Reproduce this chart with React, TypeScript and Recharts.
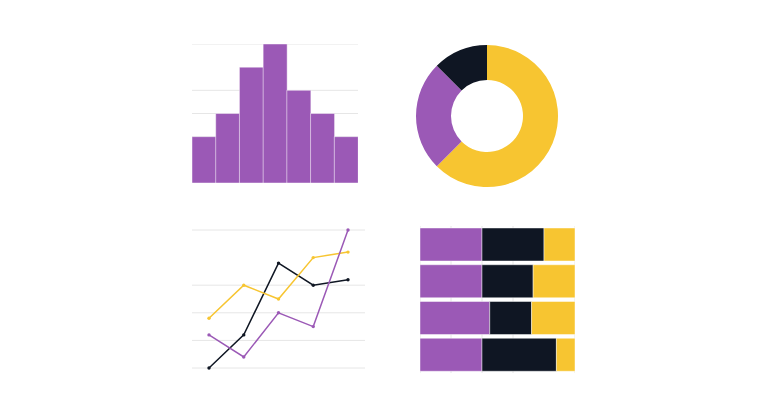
import React from "react";
import {
  BarChart,
  Bar,
  LineChart,
  Line,
  PieChart,
  Pie,
  Cell,
  XAxis,
  YAxis,
  CartesianGrid,
} from "recharts";

const PURPLE = "#9b59b6";
const DARK = "#0f1623";
const YELLOW = "#f7c531";
const GRID = "#e6e6e6";

// histogram
const histBins = ["a", "b", "c", "d", "e", "f", "g"];
const histCounts = [2, 3, 5, 6, 4, 3, 2];
const histTicks = [0, 1, 2, 3, 4, 5, 6];

// donut
const donutNames = ["yellow", "purple", "dark"];
const donutValues = [5, 2, 1];
const donutColors = [YELLOW, PURPLE, DARK];

// lines
const lineCats = ["1", "2", "3", "4", "5"];
const darkLine = [0, 6, 19, 15, 16];
const yellowLine = [9, 15, 12.5, 20, 21];
const purpleLine = [6, 2, 10, 7.5, 25];
const lineTicks = [0, 5, 10, 15, 20, 25];

// stacked bars (percent)
const rowNames = ["r1", "r2", "r3", "r4"];
const rowPurple = [40, 40, 45, 40];
const rowDark = [40, 33, 27, 48];
const rowYellow = [20, 27, 28, 12];
const pctTicks = [0, 20, 40, 60, 80, 100];

const histData = histBins.map((b, i) => ({ bin: b, count: histCounts[i] }));
const donutData = donutNames.map((n, i) => ({ name: n, value: donutValues[i] }));
const lineData = lineCats.map((c, i) => ({
  cat: c,
  dark: darkLine[i],
  yellow: yellowLine[i],
  purple: purpleLine[i],
}));
const stackData = rowNames.map((r, i) => ({
  row: r,
  purple: rowPurple[i],
  dark: rowDark[i],
  yellow: rowYellow[i],
}));

const barStroke = "rgba(255,255,255,0.45)";

export default function App() {
  return (
    <div style={{ position: "absolute", left: 0, top: 0, width: 768, height: 402, background: "#fff" }}>
      <div style={{ position: "absolute", left: 192, top: 44 }}>
        <BarChart width={166} height={139} data={histData} margin={{ top: 0, right: 0, bottom: 0, left: 0 }} barCategoryGap={0}>
          <CartesianGrid vertical={false} stroke={GRID} />
          <XAxis dataKey="bin" hide />
          <YAxis hide domain={[0, 6]} ticks={histTicks} />
          <Bar dataKey="count" fill={PURPLE} stroke={barStroke} strokeWidth={1} isAnimationActive={false} />
        </BarChart>
      </div>

      <div style={{ position: "absolute", left: 412, top: 41 }}>
        <PieChart width={150} height={150}>
          <Pie
            data={donutData}
            dataKey="value"
            cx="50%"
            cy="50%"
            innerRadius={36}
            outerRadius={71}
            startAngle={90}
            endAngle={-270}
            stroke="none"
            isAnimationActive={false}
          >
            {donutData.map((d, i) => (
              <Cell key={d.name} fill={donutColors[i]} />
            ))}
          </Pie>
        </PieChart>
      </div>

      <div style={{ position: "absolute", left: 192, top: 226 }}>
        <LineChart width={173} height={146} data={lineData} margin={{ top: 4, right: 0, bottom: 4, left: 0 }}>
          <CartesianGrid vertical={false} stroke={GRID} />
          <XAxis dataKey="cat" hide padding={{ left: 17, right: 17 }} />
          <YAxis hide domain={[0, 25]} ticks={lineTicks} />
          <Line type="linear" dataKey="dark" stroke={DARK} strokeWidth={1.5} dot={{ r: 1.7, fill: DARK, stroke: DARK, strokeWidth: 0 }} isAnimationActive={false} />
          <Line type="linear" dataKey="yellow" stroke={YELLOW} strokeWidth={1.5} dot={{ r: 1.7, fill: YELLOW, stroke: YELLOW, strokeWidth: 0 }} isAnimationActive={false} />
          <Line type="linear" dataKey="purple" stroke={PURPLE} strokeWidth={1.5} dot={{ r: 1.7, fill: PURPLE, stroke: PURPLE, strokeWidth: 0 }} isAnimationActive={false} />
        </LineChart>
      </div>

      <div style={{ position: "absolute", left: 420, top: 226 }}>
        <BarChart
          width={155}
          height={147}
          data={stackData}
          layout="vertical"
          margin={{ top: 0, right: 0, bottom: 0, left: 0 }}
          barCategoryGap={2}
        >
          <CartesianGrid horizontal={false} stroke={GRID} />
          <XAxis type="number" hide domain={[0, 100]} ticks={pctTicks} />
          <YAxis type="category" dataKey="row" hide />
          <Bar dataKey="purple" stackId="s" fill={PURPLE} stroke={barStroke} isAnimationActive={false} />
          <Bar dataKey="dark" stackId="s" fill={DARK} stroke={barStroke} isAnimationActive={false} />
          <Bar dataKey="yellow" stackId="s" fill={YELLOW} stroke={barStroke} isAnimationActive={false} />
        </BarChart>
      </div>
    </div>
  );
}
